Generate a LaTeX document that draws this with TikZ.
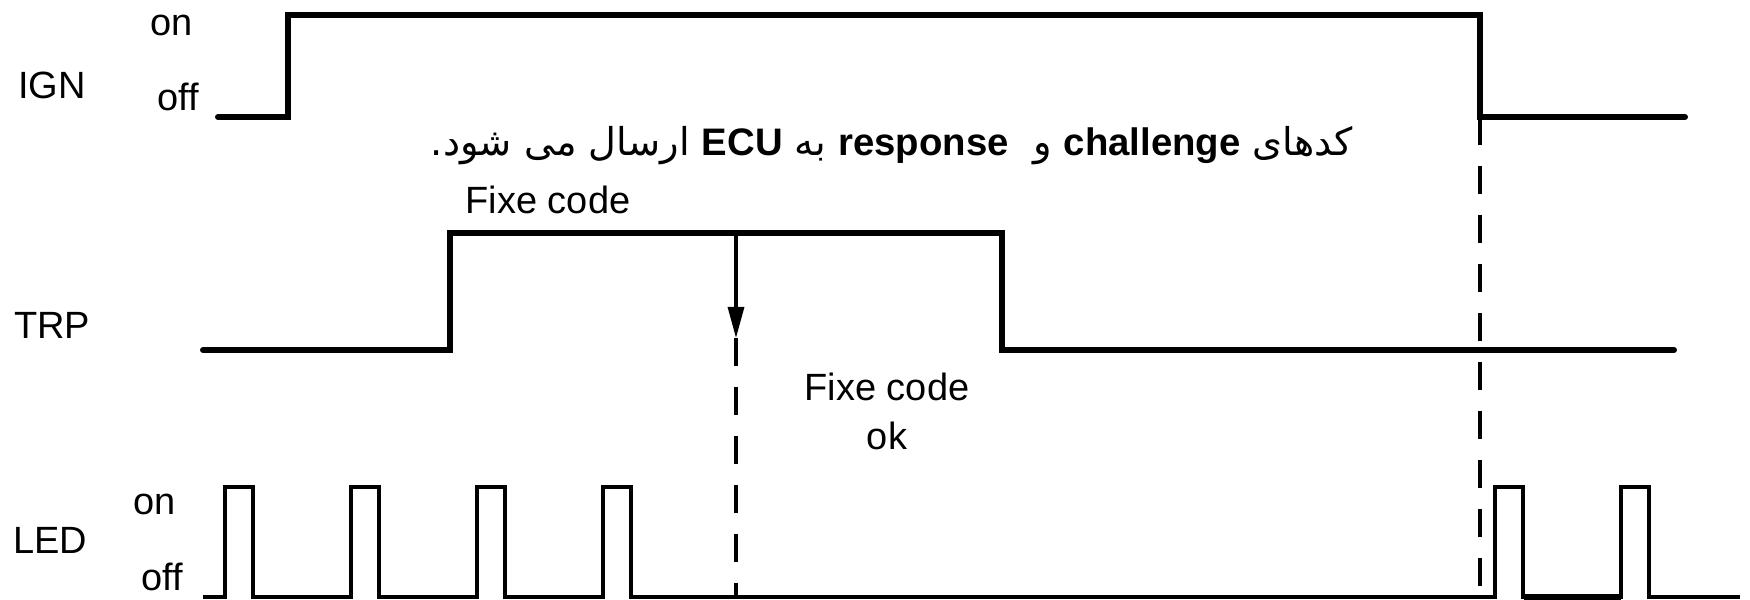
\documentclass[tikz,border=0pt]{standalone}
\usepackage{fontspec}
\setmainfont{Liberation Sans}
\newfontfamily\arabicfont[Script=Arabic]{DejaVu Sans}
\TeXXeTstate=1
\usetikzlibrary{arrows.meta}
\tikzset{
  wave/.style={line width=1.7pt, line cap=round},
  pulse/.style={line width=0.9pt},
  guide/.style={line width=0.9pt, dash pattern=on 0.28cm off 0.21cm},
  lbl/.style={inner sep=0pt, font=\fontsize{10.8}{13}\selectfont},
}
\begin{document}
\begin{tikzpicture}[x=0.01cm, y=-0.01cm]
      \useasboundingbox (0,0) rectangle (1750,600);
      \node[lbl] (ign) at (52,85) {IGN};
      \node[lbl] (ignon) at (172,25) {on};
      \node[lbl] (ignoff) at (178,97) {off};
      \node[lbl] (trp) at (52,325) {TRP};
      \node[lbl] (led) at (50,540) {LED};
      \node[lbl] (ledon) at (155,504) {on};
      \node[lbl] (ledoff) at (162,577) {off};
      \node[lbl] (fixe) at (548,200) {Fixe code};
      \node[lbl, align=center, anchor=north] (fixeok) at (887,372)
        {Fixe code\\[1pt]ok};
      \node[lbl, anchor=base, font=\fontsize{10.9}{13}\selectfont\arabicfont] (msg) at (892,156)
        {\beginR کدهای \beginL{\rmfamily\bfseries challenge}\endL{} و\ \ \beginL{\rmfamily\bfseries response}\endL{} به \beginL{\rmfamily\bfseries ECU}\endL{} ارسال می شود.\endR};
      \coordinate (ignfall) at (1480,117);
      \coordinate (ignend) at (1480,597);
      \coordinate (trphigh) at (736,233);
      \coordinate (tip) at (736,338);
      \coordinate (tipend) at (736,597);
      \draw[wave] (218,117) -- (288,117) -- (288,15) -- (1480,15) -- (ignfall) -- (1685,117);
      \draw[wave] (203,350) -- (450,350) -- (450,233) -- (1002,233) -- (1002,350) -- (1674,350);
      \draw[pulse] (203,597)
        foreach \x in {225,351,477,603,1495,1621} {
          -- (\x,597) -- (\x,487) -- (\x+28,487) -- (\x+28,597) }
        -- (1740,597);
      \draw[line width=1.5pt] (1524,597) -- (1621,597);
      \draw[guide] (ignfall) -- (ignend);
      \draw[pulse, -{Triangle[length=0.31cm, width=0.16cm]}] (trphigh) -- (tip);
      \draw[guide] (tip) -- (tipend);
\end{tikzpicture}
\end{document}
